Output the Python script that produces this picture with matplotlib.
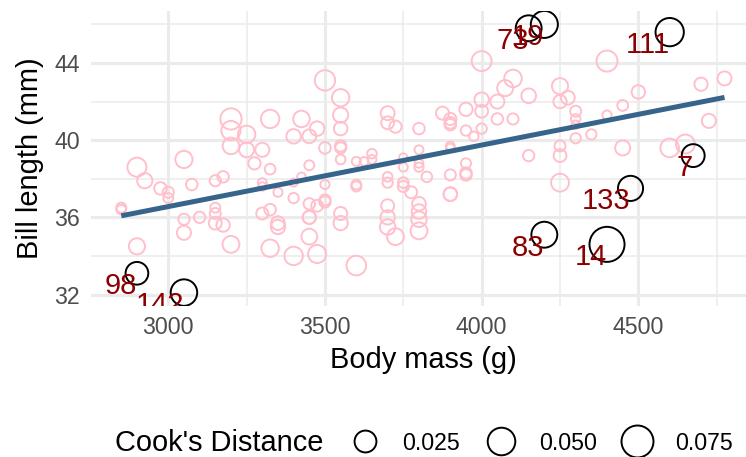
import numpy as np
import matplotlib
matplotlib.use("Agg")
import matplotlib.pyplot as plt
from matplotlib.lines import Line2D

# Adelie penguins (rows with missing values removed), row ids 1..151
body_mass = [3750, 3800, 3250, 3450, 3650, 3625, 4675, 3475, 4250, 3300, 3700, 3200, 3800, 4400, 3700, 3450, 4500, 3325, 4200,
             3400, 3600, 3800, 3950, 3800, 3800, 3550, 3200, 3150, 3950,
             3250, 3900, 3300, 3900, 3325, 4150, 3950, 3550, 3300, 4650, 3150, 3900, 3100, 4400, 3000, 4600, 3425, 2975, 3450, 4150,
             3500, 4300, 3450, 4050, 2900, 3700, 3550, 3800, 2850, 3750, 3150, 4400, 3600, 4050, 2850, 3950, 3350, 4100,
             3050, 4450, 3600, 3900, 3550, 4150, 3700, 4250, 3700, 3900, 3550, 4000, 3200, 4700, 3800, 4200,
             3350, 3550, 3800, 3500, 3950, 3600, 3550, 4300, 3400, 4450, 3300, 4300, 3700, 4350, 2900, 4100,
             3725, 4725, 3075, 4250, 2925, 3550, 3750, 3900, 3175, 4775, 3825, 4600, 3200, 4275, 3900, 4075,
             2900, 3775, 3350, 3325, 3150, 3500, 3450, 3875, 3050, 4000, 3275, 4300, 3050, 4000, 3325, 3500,
             3500, 4475, 3425, 3900, 3175, 3975, 3400, 4250, 3400, 3475, 3050, 3725, 3000, 3650, 4250, 3475, 3450, 3750, 3700, 4000]
bill_length = [39.1, 39.5, 40.3, 36.7, 39.3, 38.9, 39.2, 34.1, 42.0, 37.8, 37.8, 41.1, 38.6, 34.6, 36.6, 38.7, 42.5, 34.4, 46.0,
               37.8, 37.7, 35.9, 38.2, 38.8, 35.3, 40.6, 40.5, 37.9, 40.5,
               39.5, 37.2, 39.5, 40.9, 36.4, 39.2, 38.8, 42.2, 37.6, 39.8, 36.5, 40.8, 36.0, 44.1, 37.0, 39.6, 41.1, 37.5, 36.0, 42.3,
               39.6, 40.1, 35.0, 42.0, 34.5, 41.4, 39.0, 40.6, 36.5, 37.6, 35.7, 41.3, 37.6, 41.1, 36.4, 41.6, 35.5, 41.1,
               35.9, 41.8, 33.5, 39.7, 39.6, 45.8, 35.5, 42.8, 40.9, 37.2, 36.2, 42.1, 34.6, 42.9, 36.7, 35.1,
               37.3, 41.3, 36.3, 36.9, 38.3, 38.9, 35.7, 41.1, 34.0, 39.6, 36.2, 40.8, 38.1, 40.3, 33.1, 43.2,
               35.0, 41.0, 37.7, 37.8, 37.9, 39.7, 38.6, 38.2, 38.1, 43.2, 38.1, 45.6, 39.7, 42.2, 39.6, 42.7,
               38.6, 37.3, 35.7, 41.1, 36.2, 37.7, 40.2, 41.4, 35.2, 40.6, 38.8, 41.5, 39.0, 44.1, 38.5, 43.1,
               36.8, 37.5, 38.1, 41.1, 35.6, 40.2, 37.0, 39.7, 40.2, 40.6, 32.1, 40.7, 37.3, 39.0, 39.2, 36.6, 36.0, 37.8, 36.0, 41.5]
legend_breaks = [0.025, 0.050, 0.075]
legend_labels = ["0.025", "0.050", "0.075"]
x_ticks = [3000, 3500, 4000, 4500]
y_ticks = [32, 36, 40, 44]

x = np.array(body_mass, float)
y = np.array(bill_length, float)
n = len(x)
row_id = np.arange(1, n + 1)

# linear model + Cook's distance
X = np.column_stack([np.ones(n), x])
beta, *_ = np.linalg.lstsq(X, y, rcond=None)
resid = y - X @ beta
p = 2
s2 = resid @ resid / (n - p)
h = 1 / n + (x - x.mean()) ** 2 / ((x - x.mean()) ** 2).sum()
cooks = resid ** 2 / (p * s2) * h / (1 - h) ** 2
outlier = cooks > 4 / n

DPI = 100
LW = 1.4
dmin, dmax = cooks.min(), cooks.max()


def path_pt(d):
    frac = np.clip((np.asarray(d) - dmin) / (dmax - dmin), 0, 1)
    outer_px = 10 + 27 * np.sqrt(frac)
    return (outer_px - LW * DPI / 72) * 72 / DPI


plt.rcParams['font.family'] = ['Liberation Sans', 'DejaVu Sans']
fig = plt.figure(figsize=(7.46, 4.57), dpi=DPI)
W, H = 746, 457
ax = fig.add_axes([91.1 / W, (H - 306) / H, 663.6 / W, 295 / H])

ax.set_facecolor('white')
for s in ax.spines.values():
    s.set_visible(False)

xr = x.max() - x.min()
yr = y.max() - y.min()
ax.set_xlim(x.min() - 0.05 * xr, x.max() + 0.05 * xr)
ax.set_ylim(y.min() - 0.05 * yr, y.max() + 0.05 * yr)
ax.set_xticks(x_ticks)
ax.set_yticks(y_ticks)
ax.set_xticks([3250, 3750, 4250, 4750], minor=True)
ax.set_yticks([34, 38, 42, 46], minor=True)
ax.grid(which='major', color='#EBEBEB', linewidth=2.2)
ax.grid(which='minor', color='#EBEBEB', linewidth=1.1)
ax.set_axisbelow(True)
ax.tick_params(which='both', length=0)
ax.tick_params(axis='x', labelsize=16.7, labelcolor='#4D4D4D', pad=7)
ax.tick_params(axis='y', labelsize=16.7, labelcolor='#4D4D4D', pad=8)

# points
ax.scatter(x[~outlier], y[~outlier], s=path_pt(cooks[~outlier]) ** 2, facecolors='none',
           edgecolors='pink', linewidths=LW, zorder=2)
xs = np.array([x.min(), x.max()])
ax.plot(xs, beta[0] + beta[1] * xs, color='#36648B', linewidth=3.6, zorder=3, solid_capstyle='butt')
ax.scatter(x[outlier], y[outlier], s=path_pt(cooks[outlier]) ** 2, facecolors='none',
           edgecolors='black', linewidths=LW, zorder=4)
FS_LAB = 21
for xi, yi, rid in zip(x[outlier], y[outlier], row_id[outlier]):
    ax.annotate(str(rid), xy=(xi, yi), xytext=(0, -0.716 * FS_LAB), textcoords='offset points',
                ha='right', va='baseline', fontsize=FS_LAB, color='#8B0000', zorder=5,
                annotation_clip=False, clip_on=True)

ax.set_xlabel('Body mass (g)', fontsize=20.9, color='black', va='center')
ax.xaxis.set_label_coords(0.5, (306 - 360) / 295)
ax.set_ylabel('Bill length (mm)', fontsize=20.9, color='black', va='center')
ax.yaxis.set_label_coords((30 - 91.1) / 663.6, 0.5)

# legend
handles = [Line2D([], [], marker='o', linestyle='None', markersize=float(path_pt(b)),
                  markerfacecolor='none', markeredgecolor='black', markeredgewidth=LW)
           for b in legend_breaks]
fig.text(115 / W, 1 - 443 / H, "Cook's Distance", fontsize=20.9, ha='left', va='center')
fig.legend(handles, legend_labels, ncol=3, loc='center left',
           bbox_to_anchor=(341.5 / W, 1 - 443 / H), frameon=False, fontsize=16.7,
           handlelength=2, handletextpad=0.63, columnspacing=0.75, borderpad=0, borderaxespad=0)

fig.savefig('out.png', dpi=DPI)
